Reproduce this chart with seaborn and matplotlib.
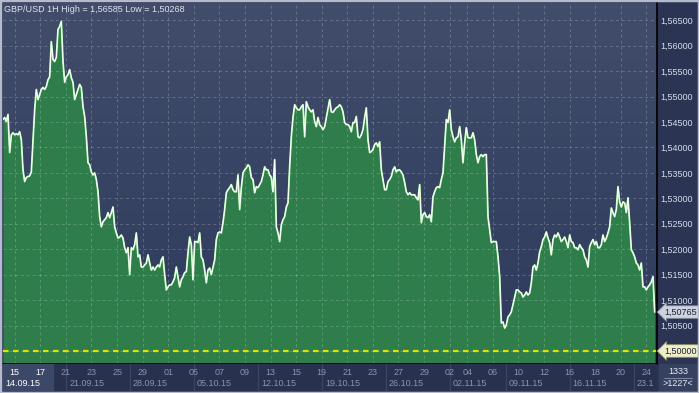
import numpy as np
import pandas as pd
import matplotlib
matplotlib.use("Agg")
import matplotlib.pyplot as plt
import matplotlib.transforms as mtransforms
from matplotlib.colors import LinearSegmentedColormap
from matplotlib.patches import Rectangle
import seaborn as sns

sns.set_style("dark")
plt.rcParams['font.family'] = ['Liberation Sans', 'DejaVu Sans']

# --- DATA (GBP/USD 1H close left to right) ---
close_sep = [1.5455, 1.5459, 1.5451, 1.5465, 1.5390, 1.5425, 1.5429, 1.5425, 1.5427, 1.5425,
             1.5431, 1.5415, 1.5356, 1.5333, 1.5341, 1.5343, 1.5344, 1.5352, 1.5415, 1.5474,
             1.5514, 1.5494, 1.5504, 1.5514, 1.5518, 1.5514, 1.5520, 1.5533, 1.5539, 1.5608,
             1.5573, 1.5569, 1.5577, 1.5632, 1.5638, 1.5648, 1.5569, 1.5528, 1.5539, 1.5543,
             1.5553, 1.5537, 1.5528, 1.5494, 1.5504, 1.5514, 1.5524, 1.5518, 1.5480, 1.5461,
             1.5421, 1.5370, 1.5366, 1.5352, 1.5346, 1.5350, 1.5337, 1.5313, 1.5264, 1.5244,
             1.5254, 1.5258, 1.5262, 1.5272, 1.5262, 1.5272, 1.5283, 1.5244, 1.5232, 1.5222,
             1.5224, 1.5228, 1.5222, 1.5203, 1.5193, 1.5203, 1.5150, 1.5203, 1.5199, 1.5209,
             1.5232, 1.5185, 1.5189, 1.5165, 1.5165, 1.5169, 1.5173, 1.5189, 1.5173, 1.5159,
             1.5165, 1.5159, 1.5165, 1.5169, 1.5165, 1.5179, 1.5185, 1.5150]
close_oct_a = [1.5120, 1.5126, 1.5130, 1.5130, 1.5136, 1.5144, 1.5165, 1.5146, 1.5126, 1.5140,
               1.5146, 1.5154, 1.5156, 1.5193, 1.5224, 1.5209, 1.5140, 1.5215, 1.5215, 1.5213,
               1.5232, 1.5185, 1.5179, 1.5159, 1.5134, 1.5159, 1.5163, 1.5150, 1.5165, 1.5179,
               1.5219, 1.5232, 1.5234, 1.5232, 1.5252, 1.5278, 1.5311, 1.5317, 1.5321, 1.5327,
               1.5317, 1.5313, 1.5313, 1.5346, 1.5278, 1.5321, 1.5350, 1.5356, 1.5360, 1.5366,
               1.5362, 1.5341, 1.5337, 1.5311, 1.5323, 1.5321, 1.5327, 1.5333, 1.5346, 1.5362,
               1.5356, 1.5356, 1.5346, 1.5341, 1.5313, 1.5376, 1.5244, 1.5232, 1.5215, 1.5248,
               1.5258, 1.5264, 1.5283, 1.5291, 1.5362, 1.5421, 1.5459, 1.5484, 1.5478, 1.5474,
               1.5474, 1.5480, 1.5484, 1.5421, 1.5490, 1.5480, 1.5474, 1.5470, 1.5474, 1.5451,
               1.5441, 1.5459, 1.5445, 1.5441, 1.5435, 1.5441, 1.5459, 1.5478, 1.5494]
close_oct_b = [1.5470, 1.5469, 1.5474, 1.5478, 1.5480, 1.5484, 1.5480, 1.5470, 1.5449, 1.5445,
               1.5445, 1.5441, 1.5431, 1.5449, 1.5449, 1.5461, 1.5421, 1.5419, 1.5425, 1.5435,
               1.5459, 1.5478, 1.5415, 1.5390, 1.5392, 1.5396, 1.5406, 1.5409, 1.5402, 1.5411,
               1.5356, 1.5337, 1.5317, 1.5317, 1.5333, 1.5337, 1.5343, 1.5356, 1.5362, 1.5352,
               1.5356, 1.5356, 1.5352, 1.5346, 1.5331, 1.5313, 1.5307, 1.5311, 1.5307, 1.5307,
               1.5307, 1.5301, 1.5297, 1.5327, 1.5252, 1.5268, 1.5272, 1.5264, 1.5262, 1.5268,
               1.5254, 1.5303, 1.5313, 1.5321, 1.5323, 1.5321, 1.5337, 1.5350, 1.5402, 1.5455,
               1.5449, 1.5474, 1.5435, 1.5421, 1.5411, 1.5419, 1.5421, 1.5441, 1.5415, 1.5370,
               1.5409, 1.5439, 1.5419, 1.5419, 1.5419, 1.5429, 1.5415, 1.5386, 1.5370, 1.5382,
               1.5386, 1.5382, 1.5386, 1.5386, 1.5264, 1.5238, 1.5213, 1.5215, 1.5215]
close_nov = [1.5215, 1.5185, 1.5146, 1.5055, 1.5057, 1.5045, 1.5051, 1.5067, 1.5071, 1.5077,
             1.5091, 1.5106, 1.5120, 1.5120, 1.5116, 1.5114, 1.5106, 1.5110, 1.5116, 1.5110,
             1.5114, 1.5134, 1.5165, 1.5169, 1.5159, 1.5173, 1.5195, 1.5205, 1.5219, 1.5224,
             1.5234, 1.5222, 1.5213, 1.5189, 1.5219, 1.5228, 1.5224, 1.5232, 1.5224, 1.5215,
             1.5219, 1.5224, 1.5215, 1.5203, 1.5228, 1.5215, 1.5213, 1.5203, 1.5203, 1.5199,
             1.5209, 1.5203, 1.5199, 1.5185, 1.5179, 1.5165, 1.5205, 1.5213, 1.5219, 1.5209,
             1.5215, 1.5203, 1.5203, 1.5209, 1.5228, 1.5215, 1.5222, 1.5232, 1.5244, 1.5281,
             1.5272, 1.5264, 1.5278, 1.5323, 1.5293, 1.5283, 1.5293, 1.5291, 1.5272, 1.5301,
             1.5252, 1.5199, 1.5193, 1.5185, 1.5173, 1.5169, 1.5159, 1.5173, 1.5126, 1.5126,
             1.5120, 1.5126, 1.5130, 1.5136, 1.5146, 1.50765]

last_price = 1.50765
ref_level = 1.50000
visible_bars = 1227
total_bars = 1333
title = "GBP/USD 1H High = 1,56585 Low = 1,50268"

price_ticks = [1.500, 1.505, 1.510, 1.515, 1.520, 1.525, 1.530, 1.535,
               1.540, 1.545, 1.550, 1.555, 1.560, 1.565]

# bar index of each labelled trading day (hourly bars)
day_bars = [22, 70, 118, 166, 214, 262, 310, 358, 406, 454, 502, 550, 598,
            646, 694, 742, 790, 838, 871, 919, 967, 1015, 1063, 1111, 1159, 1207]
day_labels = ['15', '17', '21', '23', '25', '29', '01', '05', '07', '09', '13', '15', '19',
              '21', '23', '27', '29', '02', '04', '06', '10', '12', '16', '18', '20', '24']
week_bars = [-2, 118, 238, 358, 478, 598, 718, 838, 943, 1063, 1183]
week_labels = ['14.09.15', '21.09.15', '28.09.15', '05.10.15', '12.10.15', '19.10.15',
               '26.10.15', '02.11.15', '09.11.15', '16.11.15', '23.1']

close = close_sep + close_oct_a + close_oct_b + close_nov
df = pd.DataFrame({'bar': np.linspace(0, 1222.6, len(close)), 'close': close})

# --- LAYOUT ---
W, H = 699, 393
PANEL = '#2b3452'
y_lo, y_hi = 1.49744, 1.56840

fig = plt.figure(figsize=(W / 100, H / 100), dpi=100, facecolor=PANEL)
ax = fig.add_axes([3 / W, 29 / H, 654 / W, 361 / H])
axb = fig.add_axes([3 / W, 2 / H, 654 / W, 27 / H])

# background gradient
bg = LinearSegmentedColormap.from_list('bg', ['#414d6a', '#2e3a5c'])
ax.imshow(np.linspace(0, 1, 200).reshape(-1, 1), cmap=bg, aspect='auto',
          extent=(0, 1, 0, 1), transform=ax.transAxes, zorder=0)

ax.fill_between(df['bar'], df['close'], y_lo, color='#2e7d4b', lw=0, zorder=1)
sns.lineplot(data=df, x='bar', y='close', ax=ax, color='#aef3a4', lw=1.3, zorder=3, sort=False)
sns.lineplot(data=df, x='bar', y='close', ax=ax, color='white', lw=0.7, zorder=4, sort=False)
ax.axhline(ref_level, color='#e2e200', lw=1.6, ls=(0, (2.5, 2)), zorder=3.5)

ax.set_xlim(0, visible_bars)
ax.set_ylim(y_lo, y_hi)
ax.set_xlabel('')
ax.set_ylabel('')
ax.set_xticks(day_bars)
ax.tick_params(axis='x', length=0, labelbottom=False)
ax.yaxis.tick_right()
ax.set_yticks(price_ticks)
ax.set_yticklabels(['' if v == ref_level else f'{v:.5f}'.replace('.', ',') for v in price_ticks])
ax.tick_params(axis='y', length=0, pad=2.5, labelsize=6.5, labelcolor='#d6ddeb')
ax.grid(True, color='white', alpha=0.2, ls=(0, (3, 3)), lw=0.7)
ax.set_axisbelow(False)
for s in ['top', 'left']:
    ax.spines[s].set_visible(False)
for s in ['right', 'bottom']:
    ax.spines[s].set_color('black')
    ax.spines[s].set_linewidth(1.2)
    ax.spines[s].set_zorder(6)

fig.text(4 / W, 1 - 9 / H, title, color='#dde3f0', fontsize=6.5, va='center', ha='left')

# price boxes on the right axis
trans = mtransforms.blended_transform_factory(fig.transFigure, ax.transData)
ax.text(664 / W, last_price, f'{last_price:.5f}'.replace('.', ','), transform=trans,
        ha='left', va='center', fontsize=6.5, color='#1c2238', clip_on=False, zorder=7,
        bbox=dict(boxstyle='larrow,pad=0.2', fc='#cdd2dc', ec='#7f8798', lw=0.6))
ax.text(664 / W, ref_level, f'{ref_level:.5f}'.replace('.', ','), transform=trans,
        ha='left', va='center', fontsize=6.5, color='#1c2238', clip_on=False, zorder=7,
        bbox=dict(boxstyle='larrow,pad=0.2', fc='#eeeec8', ec='#8f8f6a', lw=0.6))

# --- TIME BAND ---
axb.set_facecolor('#28314d')
axb.set_xlim(0, visible_bars)
axb.set_ylim(0, 1)
axb.set_xticks([])
axb.set_yticks([])
for s in axb.spines.values():
    s.set_visible(False)
axb.add_patch(Rectangle((0, 0), 94, 1, color='#3c4867', zorder=0))
axb.vlines(week_bars[1:], 0, 1, color='#3a4565', lw=1, zorder=1)
for b, lab in zip(day_bars, day_labels):
    axb.text(b, 0.67, lab, ha='center', va='center', fontsize=6.5, clip_on=True,
             color='white' if b < 94 else '#8a93ad')
for b, lab in zip(week_bars, week_labels):
    axb.text(b + 6, 0.27, lab, ha='left', va='center', fontsize=6.5, clip_on=True,
             color='white' if b < 94 else '#8a93ad')

# bar counter box, bottom right
fig.patches.append(Rectangle((659 / W, 2 / H), 38 / W, 27 / H, transform=fig.transFigure,
                             color='#36415f', zorder=0))
fig.text(678 / W, 1 - 372 / H, str(total_bars), color='#e6ebf5', fontsize=6.5,
         ha='center', va='center')
fig.lines.append(plt.Line2D([664 / W, 692 / W], [1 - 378 / H, 1 - 378 / H],
                            transform=fig.transFigure, color='#8a93ad', lw=0.6))
fig.text(678 / W, 1 - 384 / H, f'>{visible_bars}<', color='#e6ebf5', fontsize=6.5,
         ha='center', va='center')

# outer frame
fig.patches.append(Rectangle((0, 0), 1, 1, transform=fig.transFigure, fill=False,
                             ec='#b4bccb', lw=2.5))

plt.savefig('out.png', dpi=100, facecolor=fig.get_facecolor())
plt.close()
